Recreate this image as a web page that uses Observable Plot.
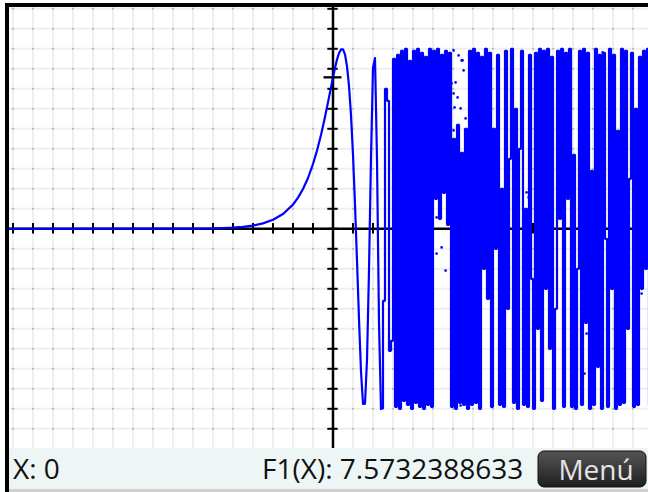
<!DOCTYPE html>
<html>
<head>
<meta charset="utf-8">
<script src="https://cdn.jsdelivr.net/npm/d3@7"></script>
<script src="https://cdn.jsdelivr.net/npm/@observablehq/plot@0.6"></script>
<style>
  html, body { margin: 0; padding: 0; background: #fff; }
  #chart { width: 648px; height: 492px; position: relative; overflow: hidden; }
</style>
</head>
<body>
<div id="chart"></div>
<script>
// Grid / tick positions (one unit per grid cell)
const xTicks = d3.range(-16, 16);
const yTicks = d3.range(-10, 12);

// Smooth part of F1
const curveX = [-16.2, -7, -6, -5.5, -5, -4.5, -4, -3.5, -3, -2.5, -2, -1.75, -1.5, -1.25, -1, -0.8, -0.6, -0.4, -0.2, 0,
  0.1, 0.2, 0.3, 0.4, 0.5, 0.6, 0.7, 0.8, 0.9, 1.0, 1.1, 1.2, 1.3, 1.4, 1.5, 1.6, 1.7, 1.8, 1.9, 2.0, 2.1, 2.2, 2.3, 2.4];
const curveY = [0, 0.01, 0.02, 0.04, 0.06, 0.10, 0.16, 0.27, 0.45, 0.74, 1.21, 1.56, 1.99, 2.54, 3.24, 3.91, 4.69, 5.59, 6.57, 7.57,
  8.04, 8.46, 8.78, 8.97, 8.97, 8.72, 8.13, 7.14, 5.68, 3.70, 1.23, -1.59, -4.53, -7.12, -8.76, -8.74, -6.55, -2.08, 3.58, 8.05, 8.54, 3.48, -4.71, -8.99];

// Aliased part (one sample per calculator pixel, x from 2.5 step 0.1)
const chaosStart = 2.5;
const chaosStep = 0.1;
const chaosY = [
  -3.6, 7.0, 6.4, -6.1, -5.6, 8.5,
  -8.9, 8.7, -9.0, 8.9, -8.6, 9.0, -8.8, 8.4, -9.0, 8.9, -8.7, 9.0, -8.9, 8.8, -9.0, 8.6, -8.8, 9.0, -8.9,
  8.9, 1.5, 9.0, 0.5, 8.7, 1.8, 8.9, 0.2, 8.8,
  -8.9, 4.5, -9.0, 5.2, -8.7, 3.8, -8.8, 5.0, -9.0,
  8.9, -8.8, 9.0, -8.7, 8.8, -9.0, 8.6,
  -2.0, 9.0, -3.5, 8.8, -8.9, 5.0, -1.0, 8.7, -8.8, 2.0,
  -8.9, 8.9, -4.0, 3.5, 9.0, -8.7, 6.0, -9.0, 4.0, 8.9,
  -8.8, 1.0, -8.9, 8.7, -2.5, -9.0, 8.8, -5.0, 9.0, -8.6,
  8.9, -3.0, 9.0, -6.0, 8.6, -9.0, -4.0, 8.9, 0.5, 9.0,
  -8.9, 8.8, 1.5, 9.0, -8.9, 3.7, -9.0, -2.0, 8.9, -8.8,
  9.0, -4.7, 8.8, -9.0, 2.9, -8.8, 9.0, -6.9, 8.7, -9.0,
  8.8, -0.5, -8.9, 9.0, -3.0, 8.7, -9.0, 4.9, -8.8, 9.0,
  -8.7, 8.9, -5.0, 2.5, 8.8, -8.9, 6.0, -8.8, 8.6, -3.0, 8.9, -2.0, 9.0, -8.8
];

// Isolated plotted dots
const dotX = [5.93, 6.43, 6.08, 6.03, 5.28, 5.18, 5.43, 5.18, 5.63, 5.93, 6.03, 6.18, 6.28, 6.03, 6.38, 6.63, 6.03, 6.13, 5.98, 6.48, 5.98, 6.38, 6.73,
  12.48, 12.48, 12.68, 12.58, 15.43, 9.68, 9.78, 10.28, 10.18,
  6.03, 6.28, 5.88, 6.48, 6.13, 6.53, 6.38, 6.63, 6.03, 6.23, 12.53, 13.48];
const dotY = [7.27, 8.42, 6.07, 4.92, 1.77, 0.57, -0.93, -1.24, -2.09, -2.59, -4.44, -6.74, -7.24, -8.59, -7.94, -5.59, -6.34, -6.99, -7.69, -8.24, -8.59, -8.84, -8.74,
  -1.09, -2.24, -5.24, -7.24, -3.24, 1.82, 1.57, -4.49, -4.69,
  8.92, 8.67, 8.32, 8.42, 7.32, 7.92, 6.02, 5.52, 6.77, 6.57, 5.52, 8.82];

// Cursor
const cursorX = 0;
const cursorY = 7.5732388633;
const cursorLabelX = "X: 0";
const cursorLabelF = "F1(X): 7.5732388633";
const menuLabel = "Menú";

const smooth = curveX.map((x, i) => ({x, y: curveY[i]}));
const chaos = [smooth[smooth.length - 1]].concat(chaosY.map((y, i) => ({x: chaosStart + i * chaosStep, y})));
const dots = dotX.map((x, i) => ({x, y: dotY[i]}));
const inter = d3.cross(xTicks, yTicks).map(([x, y]) => ({x, y}));

const W = 648, H = 492;
const plot = Plot.plot({
  width: W, height: H,
  marginLeft: 9, marginRight: 0, marginTop: 7, marginBottom: 44,
  x: {domain: [-16.175, 15.775], axis: null},
  y: {domain: [-10.985, 11.065], axis: null},
  style: {background: "#ffffff", overflow: "visible"},
  marks: [
    Plot.ruleX(xTicks, {x: d => d, stroke: "#efefef", strokeWidth: 2}),
    Plot.ruleY(yTicks, {y: d => d, stroke: "#efefef", strokeWidth: 2}),
    Plot.dot(inter, {x: "x", y: "y", r: 1, fill: "#b0b0b0", stroke: null}),
    Plot.ruleY([0], {stroke: "#000", strokeWidth: 2.5}),
    Plot.ruleX([0], {stroke: "#000", strokeWidth: 2.5}),
    Plot.ruleX(xTicks, {x: d => d, y1: -0.26, y2: 0.26, stroke: "#000", strokeWidth: 2}),
    Plot.ruleY(yTicks, {y: d => d, x1: -0.26, x2: 0.26, stroke: "#000", strokeWidth: 2}),
    Plot.line(smooth, {x: "x", y: "y", stroke: "#0000ff", strokeWidth: 2.2, strokeLinejoin: "round"}),
    Plot.line(chaos, {x: "x", y: "y", curve: "step-after", stroke: "#0000ff", strokeWidth: 2.2, strokeLinejoin: "miter", strokeLinecap: "square"}),
    Plot.dot(dots, {x: "x", y: "y", r: 1.3, fill: "#0000ff", stroke: null}),
    Plot.ruleY([cursorY], {y: d => d, x1: cursorX - 0.45, x2: cursorX + 0.45, stroke: "#000", strokeWidth: 2.3})
  ]
});
document.getElementById("chart").appendChild(plot);

const svg = d3.select(plot);
svg.attr("font-family", "'Open Sans', 'Noto Sans', sans-serif");
// frame of the calculator screen
svg.append("rect").attr("x", 0).attr("y", 0).attr("width", 5).attr("height", H).attr("fill", "#fff");
svg.append("rect").attr("x", 0).attr("y", 0).attr("width", W).attr("height", 3).attr("fill", "#fff");
svg.append("rect").attr("x", 5).attr("y", 3).attr("width", W - 5).attr("height", 4).attr("fill", "#000");
svg.append("rect").attr("x", 5).attr("y", 3).attr("width", 4).attr("height", H - 3).attr("fill", "#000");
// bottom status bar
svg.append("rect").attr("x", 9).attr("y", 448).attr("width", W - 9).attr("height", 41).attr("fill", "#eef5f5");
svg.append("rect").attr("x", 9).attr("y", 489).attr("width", W - 9).attr("height", 3).attr("fill", "#d0d0d0");
svg.append("text").attr("x", 13).attr("y", 479).attr("text-anchor", "start").attr("font-size", 28).attr("fill", "#111").text(cursorLabelX);
svg.append("text").attr("x", 262).attr("y", 479).attr("text-anchor", "start").attr("font-size", 28).attr("fill", "#111").text(cursorLabelF);
const defs = svg.append("defs");
const g = defs.append("linearGradient").attr("id", "btn").attr("x1", 0).attr("y1", 0).attr("x2", 0).attr("y2", 1);
g.append("stop").attr("offset", "0%").attr("stop-color", "#555");
g.append("stop").attr("offset", "100%").attr("stop-color", "#1e1e1e");
svg.append("rect").attr("x", 538).attr("y", 451).attr("width", 108).attr("height", 36).attr("rx", 6)
  .attr("fill", "url(#btn)").attr("stroke", "#111").attr("stroke-width", 1);
svg.append("text").attr("x", 596).attr("y", 480).attr("text-anchor", "middle").attr("font-size", 28).attr("fill", "#e4e4e4").text(menuLabel);
</script>
</body>
</html>
